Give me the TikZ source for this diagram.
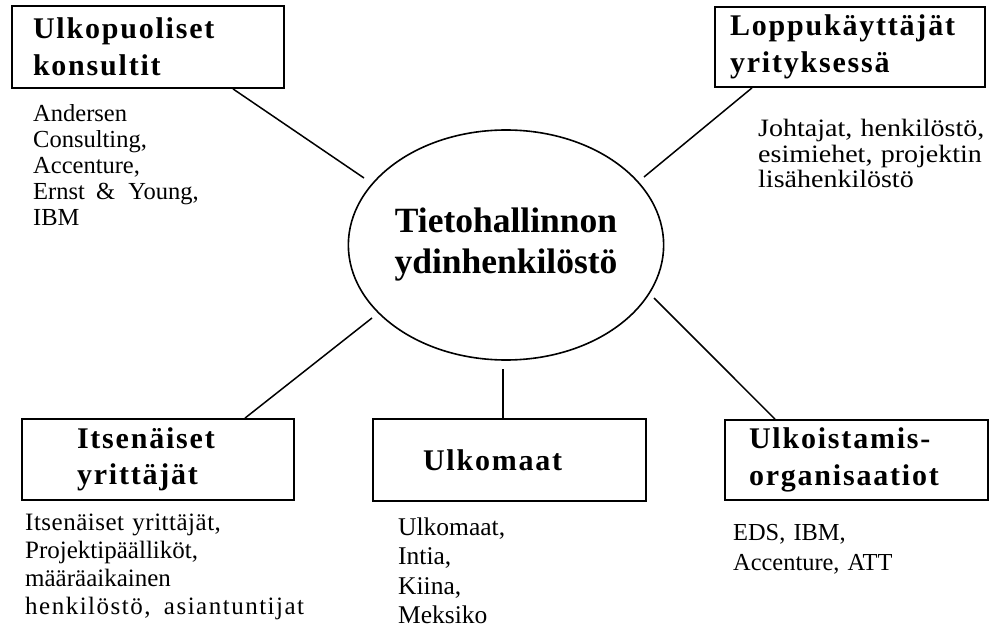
\documentclass[tikz,border=0pt]{standalone}
\usepackage{fontspec}
\setmainfont{Liberation Serif}
\usetikzlibrary{shapes.geometric}

% heading text inside the boxes: bold, slightly letter-spaced
\newcommand\headfont{\fontsize{30}{36.5}\selectfont\bfseries\addfontfeature{LetterSpace=6}}
% plain list text: #1 size, #2 line distance, #3 horizontal stretch
\newcommand\listfont[3]{\fontsize{#1}{#2}\selectfont\addfontfeature{FakeStretch=#3}}
% a line of list text set a little looser
\newcommand\loose[2]{{\addfontfeature{LetterSpace=#1}#2}}

\tikzset{
  groupbox/.style={draw, line width=1.8pt, inner ysep=0pt, align=left,
                   font=\headfont},
  listtext/.style={inner sep=0pt, align=left, anchor=base west, text width=330},
  link/.style={line width=1.5pt},
}

\begin{document}
\begin{tikzpicture}[x=1pt, y=-1pt]
  \useasboundingbox (0,0) rectangle (989,631);

  % core group in the middle
  \node[ellipse, draw, line width=1.6pt, minimum width=310, minimum height=230,
        inner sep=0pt, align=center,
        font=\fontsize{35.5}{41}\selectfont\bfseries] (core) at (506,245)
        {Tietohallinnon\\ydinhenkilöstö};

  % surrounding groups
  \node[groupbox, text width=230, inner xsep=21, minimum height=82] (cons) at (148,47)
        {Ulkopuoliset\\konsultit};
  \node[groupbox, text width=240, inner xsep=15, minimum height=80] (users) at (850,47)
        {Loppukäyttäjät\\yrityksessä};
  \node[groupbox, text width=162, inner xsep=55, minimum height=81] (indep) at (158,459.5)
        {Itsenäiset\\yrittäjät};
  \node[groupbox, text width=173, inner xsep=50, minimum height=82] (abroad) at (509.5,460)
        {Ulkomaat};
  \node[groupbox, text width=215, inner xsep=24, minimum height=80] (outs) at (856.5,460)
        {Ulkoistamis-\\organisaatiot};

  % examples under each group
  \node[listtext, font=\listfont{24.5}{26}{1}] (consl) at (33,122)
        {Andersen\\Consulting,\\Accenture,\\Ernst\hspace{3pt} \&\hspace{5pt} Young,\\IBM};
  \node[listtext, font=\listfont{25}{25.3}{1.12}] (usersl) at (758,137)
        {Johtajat, henkilöstö,\\esimiehet, projektin\\lisähenkilöstö};
  \node[listtext, font=\listfont{25}{28.3}{1}] (indepl) at (25,530)
        {\loose{2}{Itsenäiset yrittäjät,}\\Projektipäälliköt,\\määräaikainen\\
         \loose{6}{henkilöstö,\hspace{5pt} asiantuntijat}};
  \node[listtext, font=\listfont{25.5}{29.5}{1}] (abroadl) at (398,535)
        {Ulkomaat,\\Intia,\\Kiina,\\Meksiko};
  \node[listtext, font=\listfont{24.4}{30}{1}] (outsl) at (733,540)
        {EDS, IBM,\\Accenture, ATT};

  % connector ends just short of the ellipse
  \coordinate (c1) at (364,178);
  \coordinate (c2) at (644,177);
  \coordinate (c3) at (372,318);
  \coordinate (c4) at (503,369);
  \coordinate (c5) at (654,298);

  \draw[link] ([xshift=85]cons.south) -- (c1);
  \draw[link] ([xshift=-98]users.south) -- (c2);
  \draw[link] ([xshift=87]indep.north) -- (c3);
  \draw[link] ([xshift=-6.5]abroad.north) -- (c4);
  \draw[link] ([xshift=-81.5]outs.north) -- (c5);
\end{tikzpicture}
\end{document}
